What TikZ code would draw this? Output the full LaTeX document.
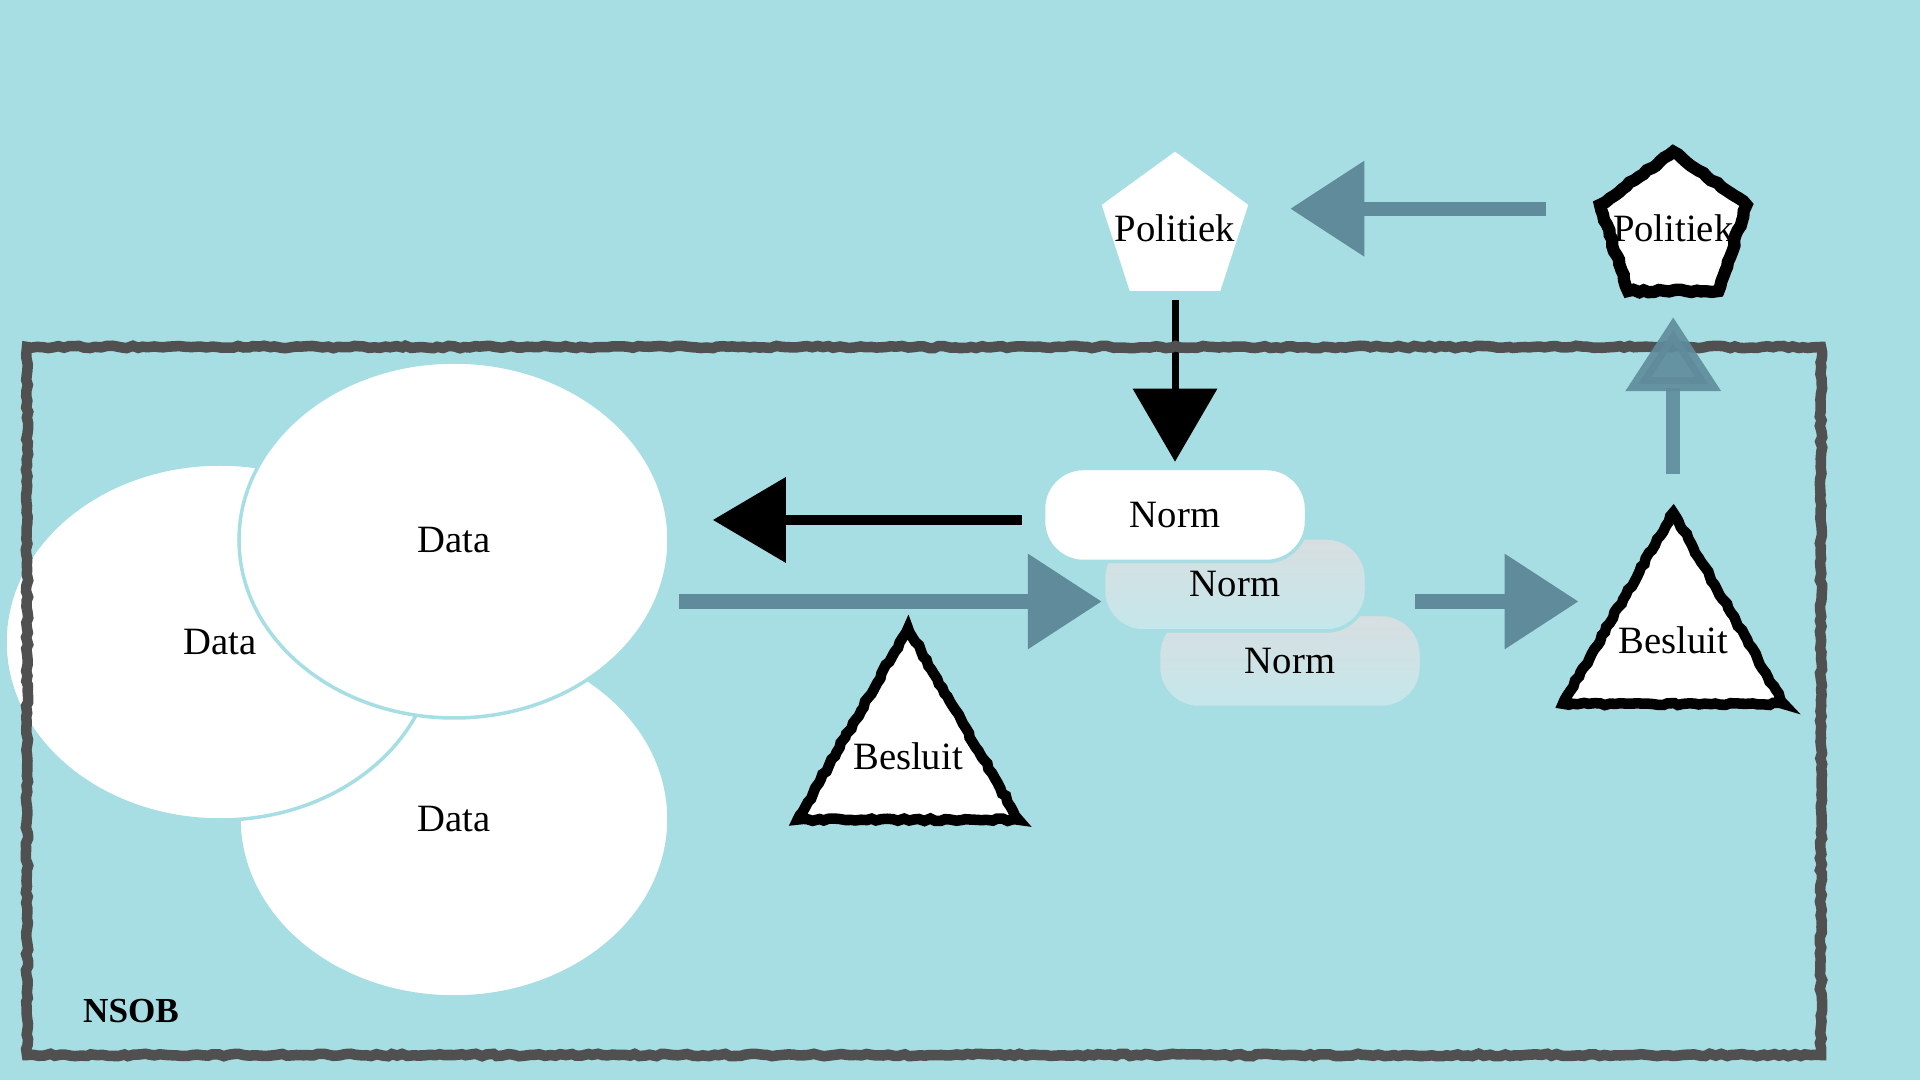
\documentclass[tikz,border=0pt]{standalone}
\usepackage{fontspec}
\setmainfont{Liberation Serif}
\usetikzlibrary{positioning,shapes.geometric,arrows.meta,decorations.pathmorphing}

\definecolor{achtergrond}{RGB}{167,222,227}
\definecolor{kader}{RGB}{80,80,80}
\definecolor{pijlblauw}{RGB}{95,139,155}
\definecolor{normtop}{RGB}{216,222,224}
\definecolor{normbodem}{RGB}{196,231,235}

\newcommand{\vorm}[1]{\makebox[0pt]{#1}}

\tikzset{
	krijt/.style={decorate, decoration={random steps, segment length=1.5pt, amplitude=0.35pt}},
	data/.style={ellipse, fill=white, draw=achtergrond, line width=1pt, minimum width=4.3cm, minimum height=3.56cm},
	norm/.style={rounded corners=0.4cm, fill=white, draw=achtergrond, line width=1pt, minimum width=2.63cm, minimum height=0.93cm},
	normachter/.style={norm, top color=normtop, bottom color=normbodem},
	politiek/.style={regular polygon, regular polygon sides=5, inner sep=0pt, minimum size=1.54cm, fill=white},
	besluit/.style={regular polygon, regular polygon sides=3, inner sep=0pt, minimum size=2.55cm, fill=white, draw=black, line width=3pt, krijt},
	zwartpijl/.style={black, line width=3pt, -{Triangle[length=7.3mm,width=8.3mm]}},
	blauwpijl/.style={pijlblauw, line width=4pt, -{Triangle[length=7.4mm,width=9.2mm]}},
}

\begin{document}
\begin{tikzpicture}[font=\fontsize{11}{13}\selectfont]
	\pgfmathsetseed{7}
	\fill[achtergrond] (0,0) rectangle (19.2,10.8);
	\useasboundingbox (0,0) rectangle (19.2,10.8);

	\node[data] (d3) at (4.54,2.61) {Data};
	\node[data] (d1) at (2.20,4.38) {Data};
	\node[data] (d2) at (4.54,5.40) {Data};

	\node[normachter] (n3) at (12.90,4.19) {Norm};
	\node[normachter, above=-2mm of n3, xshift=-5.5mm] (n2) {Norm};
	\node[norm, above=-2.7mm of n2, xshift=-6mm] (n1) {Norm};

	\node[politiek, above=1.75cm of n1] (pl) {\vorm{Politiek}};
	\node[politiek, draw=black, line width=3.5pt, krijt, right=3.6cm of pl] (pr) {\vorm{Politiek}};

	\node[besluit] (bl) at (9.08,3.24) {\vorm{Besluit}};
	\node[besluit, below=2.05cm of pr] (br) {\vorm{Besluit}};

	\node[font=\fontsize{10}{12}\selectfont\bfseries] (nsob) at (1.31,0.69) {NSOB};

	\coordinate[below=0.5mm of n1.west] (n1uit);
	\coordinate[below=1.7mm of n2.west] (n2in);
	\coordinate[below=1.7mm of n2.east] (n2uit);

	\draw[zwartpijl, line width=2pt, shorten <=0.8mm, shorten >=0.5mm] (pl) -- (n1);
	\draw[kader, line width=3pt, krijt] (0.27,0.25) rectangle (18.21,7.33);

	\draw[zwartpijl, shorten <=2mm, shorten >=4.2mm] (n1uit) -- (n1uit -| d2.east);
	\draw[blauwpijl, shorten <=0.8mm] (n2in -| d2.east) -- (n2in);
	\draw[blauwpijl, shorten >=1.5mm] ([xshift=4.7mm]n2uit) -- (n2uit -| br.west);
	\draw[blauwpijl, opacity=0.9, shorten <=2.8mm, shorten >=2mm] (br) -- (pr);
	\draw[blauwpijl, shorten <=5.5mm, shorten >=4.9mm] ([yshift=2mm]pr.west) -- ([yshift=2mm]pl.east);
\end{tikzpicture}
\end{document}
